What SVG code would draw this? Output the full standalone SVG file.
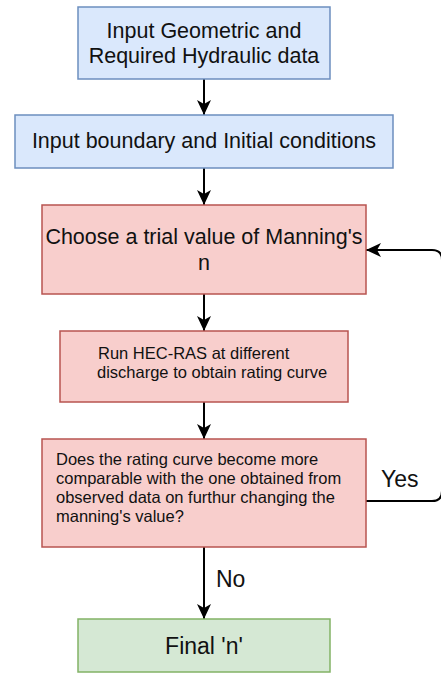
<svg xmlns="http://www.w3.org/2000/svg" width="441" height="673" viewBox="0 0 441 673">
  <style>
    .blue { fill: #dae8fc; stroke: #6c8ebf; stroke-width: 1.5; }
    .red { fill: #f8cecc; stroke: #b85450; stroke-width: 1.5; }
    .green { fill: #d5e8d4; stroke: #82b366; stroke-width: 1.5; }
    text { font-family: "Liberation Sans", Arial, sans-serif; fill: #111; }
    .big { font-size: 21.5px; }
    .small { font-size: 16.5px; }
    .label { font-size: 23px; }
    .edge { fill: none; stroke: #000; stroke-width: 2; }
  </style>
  <defs>
    <marker id="arrow" markerUnits="userSpaceOnUse" viewBox="-15 -7 15 14" refX="0" refY="0" markerWidth="15" markerHeight="14" orient="auto">
      <path d="M0,0 L-15,-7 L-11,0 L-15,7 Z" fill="#000"/>
    </marker>
  </defs>
  <rect width="441" height="673" fill="#fff"/>

  <g id="connectors">
    <path class="edge" d="M204,79 V115" marker-end="url(#arrow)"/>
    <path class="edge" d="M204,168 V205" marker-end="url(#arrow)"/>
    <path class="edge" d="M204,294 V331" marker-end="url(#arrow)"/>
    <path class="edge" d="M204,402 V439" marker-end="url(#arrow)"/>
    <path class="edge" d="M204,547 V619" marker-end="url(#arrow)"/>
    <path class="edge" d="M366,501 H432 Q442,501 442,491 V260 Q442,250 432,250 H366" marker-end="url(#arrow)"/>
    <text class="label" x="381" y="487">Yes</text>
    <text class="label" x="216" y="587">No</text>
  </g>

  <g id="node-input-geometric">
    <rect class="blue" x="78" y="7" width="252" height="72"/>
    <text class="big" x="204" y="38" text-anchor="middle">Input Geometric and</text>
    <text class="big" x="204" y="63" text-anchor="middle">Required Hydraulic data</text>
  </g>

  <g id="node-input-boundary">
    <rect class="blue" x="15" y="115" width="378" height="53"/>
    <text class="big" x="204" y="148" text-anchor="middle">Input boundary and Initial conditions</text>
  </g>

  <g id="node-trial-value">
    <rect class="red" x="42" y="205" width="324" height="89"/>
    <text class="big" x="204" y="244" text-anchor="middle">Choose a trial value of Manning's</text>
    <text class="big" x="204" y="270" text-anchor="middle">n</text>
  </g>

  <g id="node-run-hecras">
    <rect class="red" x="60" y="331" width="288" height="71"/>
    <text class="small" x="98" y="359">Run HEC-RAS at different</text>
    <text class="small" x="97" y="378">discharge to obtain rating curve</text>
  </g>

  <g id="node-decision">
    <rect class="red" x="42" y="439" width="324" height="108"/>
    <text class="small" x="56" y="465">Does the rating curve become more</text>
    <text class="small" x="56" y="484">comparable with the one obtained from</text>
    <text class="small" x="56" y="503">observed data on furthur changing the</text>
    <text class="small" x="56" y="522">manning's value?</text>
  </g>

  <g id="node-final">
    <rect class="green" x="78" y="619" width="252" height="53"/>
    <text class="label" x="204" y="654" text-anchor="middle">Final 'n'</text>
  </g>
</svg>
